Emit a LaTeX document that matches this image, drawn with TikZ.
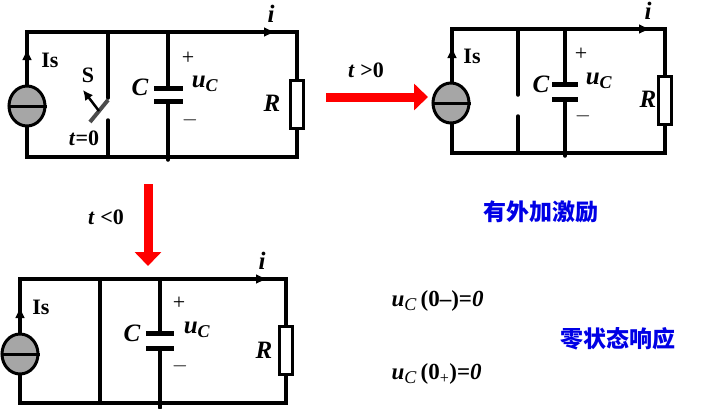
\documentclass[tikz,border=0pt]{standalone}
\usepackage{fontspec}
\setmainfont{Liberation Serif}
\newfontfamily\cjk{Noto Sans CJK SC}
\usetikzlibrary{arrows.meta,shapes.geometric}
\begin{document}
\begin{tikzpicture}[x=1pt,y=-1pt,
  wire/.style={line width=3.5pt,line cap=round},
  src/.style={draw,line width=3pt,fill=gray!70,ellipse,minimum width=36pt,minimum height=40pt,inner sep=0pt},
  res/.style={draw,line width=3pt,fill=white,minimum width=13pt,minimum height=48pt,inner sep=0pt},
  lbl/.style={font=\bfseries\fontsize{22}{22}\selectfont},
  ilbl/.style={font=\bfseries\itshape\fontsize{25}{25}\selectfont},
  sym/.style={font=\fontsize{22}{22}\selectfont},
  bigarrow/.style={draw=red,line width=9pt,-{Triangle[length=14pt,width=26pt]}},
  cn/.style={font=\cjk\bfseries\fontsize{23}{23}\selectfont,text=blue!90!black},
  eq/.style={font=\bfseries\fontsize{23}{23}\selectfont,anchor=west},
  tip/.style={-{Latex[length=12pt,width=10pt]},line width=2.5pt}]
\useasboundingbox (0,0) rectangle (723,408);
% ---------- circuit 1 ----------
\coordinate (a1) at (27,32); \coordinate (b1) at (297,32);
\coordinate (c1) at (297,157); \coordinate (d1) at (27,157);
\draw[wire] (a1) -- (b1) -- (c1) -- (d1) -- cycle;
\draw[tip] (27,52) -- (27,48);
\draw[tip] (262,32) -- (276,32);
\node[src] (s1) at (27,106) {};
\draw[line width=3pt] (s1.west) -- (s1.east);
\node[res] (r1) at (297,104) {};
\draw[wire] (108,32) -- (108,98);
\draw[wire] (108,120) -- (108,157);
\draw[line width=4pt,gray!60!black] (90,122) -- (108,100);
\draw[line width=2.5pt,-{Latex[length=10pt,width=10pt]}] (99,111) -- (83,90);
\draw[wire] (168,32) -- (168,88);
\draw[wire] (168,101) -- (168,160);
\draw[line width=5pt] (154,88) -- (183,88) (154,101) -- (183,101);
\node[lbl] (is1) at (50,60) {Is};
\node[lbl] (sw) at (88,75) {S};
\node[lbl] (t0) at (84,138) {\textit{t}=0};
\node[ilbl] (cl1) at (140,87) {C};
\node[sym] (p1) at (188,58) {+};
\node[ilbl] (u1) at (205,84) {u\textsubscript{\fontsize{18}{18}\selectfont C}};
\node[sym] (m1) at (190,120) {$-$};
\node[ilbl] (rl1) at (272,103) {R};
\node[ilbl] (i1) at (271,14) {i};
% ---------- circuit 2 ----------
\draw[wire] (452,29) -- (665,29) -- (665,153) -- (452,153) -- cycle;
\draw[tip] (452,50) -- (452,46);
\draw[tip] (637,29) -- (651,29);
\node[src] (s2) at (451,103) {};
\draw[line width=3pt] (s2.west) -- (s2.east);
\node[res] (r2) at (665,100) {};
\draw[wire] (518,29) -- (518,95);
\draw[wire] (518,116) -- (518,153);
\draw[wire] (565,29) -- (565,84);
\draw[wire] (565,99) -- (565,156);
\draw[line width=5pt] (552,84) -- (578,84) (552,99) -- (578,99);
\node[lbl] (is2) at (472,56) {Is};
\node[ilbl] (cl2) at (541,84) {C};
\node[sym] (p2) at (581,54) {+};
\node[ilbl] (u2) at (599,81) {u\textsubscript{\fontsize{18}{18}\selectfont C}};
\node[sym] (m2) at (583,116) {$-$};
\node[ilbl] (rl2) at (648,99) {R};
\node[ilbl] (i2) at (648,11) {i};
% ---------- circuit 3 ----------
\draw[wire] (20,279) -- (286,279) -- (286,403) -- (20,403) -- cycle;
\draw[tip] (20,310) -- (20,306);
\draw[tip] (254,279) -- (268,279);
\node[src] (s3) at (20,354) {};
\draw[line width=3pt] (s3.west) -- (s3.east);
\node[res] (r3) at (286,350) {};
\draw[wire] (100,279) -- (100,403);
\draw[wire] (160,279) -- (160,333);
\draw[wire] (160,348) -- (160,408);
\draw[line width=5pt] (146,333) -- (174,333) (146,348) -- (174,348);
\node[lbl] (is3) at (41,307) {Is};
\node[ilbl] (cl3) at (132,333) {C};
\node[sym] (p3) at (179,303) {+};
\node[ilbl] (u3) at (197,330) {u\textsubscript{\fontsize{18}{18}\selectfont C}};
\node[sym] (m3) at (180,366) {$-$};
\node[ilbl] (rl3) at (264,350) {R};
\node[ilbl] (i3) at (262,261) {i};
% ---------- arrows ----------
\coordinate (h1) at (326,97); \coordinate (h2) at (428,97);
\draw[bigarrow] (h1) -- (h2);
\node[font=\bfseries\fontsize{22}{22}\selectfont] (tg) at (366,70) {\textit{t} >0};
\coordinate (v1) at (148,184); \coordinate (v2) at (148,266);
\draw[bigarrow] (v1) -- (v2);
\node[font=\bfseries\fontsize{22}{22}\selectfont] (tl) at (106,217) {\textit{t} <0};
% ---------- texts ----------
\node[cn] (n1) at (541,212) {有外加激励};
\node[cn] (n2) at (618,339) {零状态响应};
\node[eq] (e1) at (388,301) {\textit{u}\textsubscript{\mdseries\itshape\fontsize{18}{18}\selectfont C}\,(0--)=\textit{0}};
\node[eq] (e2) at (388,374) {\textit{u}\textsubscript{\mdseries\itshape\fontsize{18}{18}\selectfont C}\,(0\textsubscript{\mdseries +})=\textit{0}};
\end{tikzpicture}
\end{document}
